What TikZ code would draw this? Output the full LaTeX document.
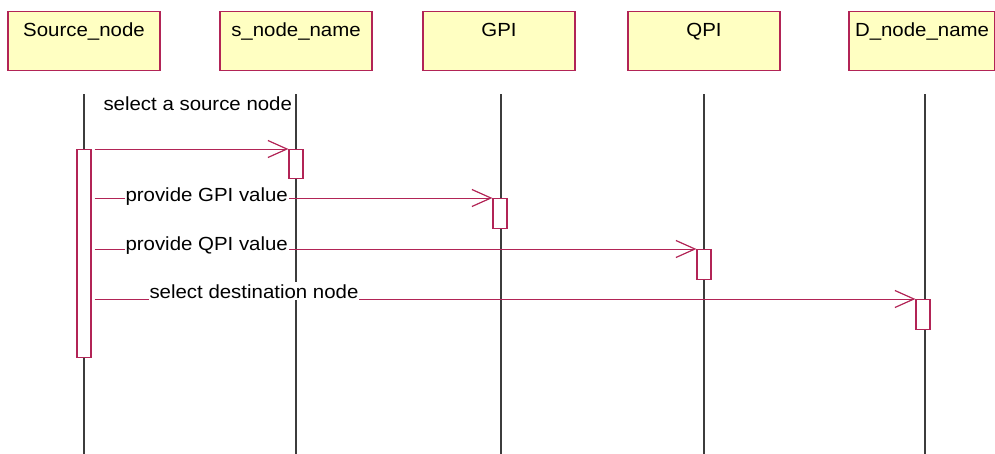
\documentclass[tikz,border=0pt]{standalone}
\usepackage{fontspec}
\setmainfont{Liberation Sans}[FakeStretch=1.075]
\usetikzlibrary{arrows.meta}
\definecolor{umlred}{RGB}{178,36,86}
\definecolor{headfill}{RGB}{255,255,194}
\definecolor{lifegray}{RGB}{60,60,60}
\begin{document}
\begin{tikzpicture}[x=1pt,y=-1pt,font=\fontsize{19}{22}\selectfont,
  head/.style={draw=umlred,line width=1.3pt,fill=headfill,minimum width=152pt,
    inner xsep=0pt,inner ysep=5pt,text height=20pt,text depth=29pt,anchor=north},
  life/.style={draw=lifegray,line width=1.4pt},
  act/.style={draw=umlred,line width=1.2pt,fill=white,minimum width=14pt,
    inner sep=0pt,anchor=north},
  msg/.style={draw=umlred,line width=1pt,
    -{Straight Barb[length=19pt,width=17pt,line width=1.2pt]}},
  lbl/.style={fill=white,inner xsep=1pt,inner ysep=2pt,anchor=base west,text=black}]
\useasboundingbox (0,0) rectangle (995,453);

% participants
\node[head] (src) at (84,11) {Source\_node};
\node[head] (snd) at (296,11) {s\_node\_name};
\node[head] (gpi) at (499,11) {GPI};
\node[head] (qpi) at (704,11) {QPI};
\node[head,minimum width=146pt] (dst) at (922,11) {D\_node\_name};

% lifelines
\draw[life] ([yshift=-23pt]src.south) -- ++(0,360);
\draw[life] ([yshift=-23pt]snd.south) -- ++(0,360);
\draw[life] ([xshift=2pt,yshift=-23pt]gpi.south) -- ++(0,360);
\draw[life] ([yshift=-23pt]qpi.south) -- ++(0,360);
\draw[life] ([xshift=3pt,yshift=-23pt]dst.south) -- ++(0,360);

% activations
\node[act,minimum height=208pt] (srcA) at (84,149) {};
\node[act,minimum height=29pt] (sndA) at (296,149) {};
\node[act,minimum height=30pt] (gpiA) at (500,198) {};
\node[act,minimum height=30pt] (qpiA) at (704,249) {};
\node[act,minimum height=30pt] (dstA) at (923,299) {};

% messages
\draw[msg] ([xshift=3pt]srcA.east |- sndA.north west) -- (sndA.north west)
  node[lbl,fill=none] at (102,110) {select a source node};
\draw[msg] ([xshift=3pt]srcA.east |- gpiA.north west) -- (gpiA.north west)
  node[lbl] at (124,201) {provide GPI value};
\draw[msg] ([xshift=3pt]srcA.east |- qpiA.north west) -- (qpiA.north west)
  node[lbl] at (124,250) {provide QPI value};
\draw[msg] ([xshift=3pt]srcA.east |- dstA.north west) -- (dstA.north west)
  node[lbl] at (148,298) {select destination node};
\end{tikzpicture}
\end{document}
